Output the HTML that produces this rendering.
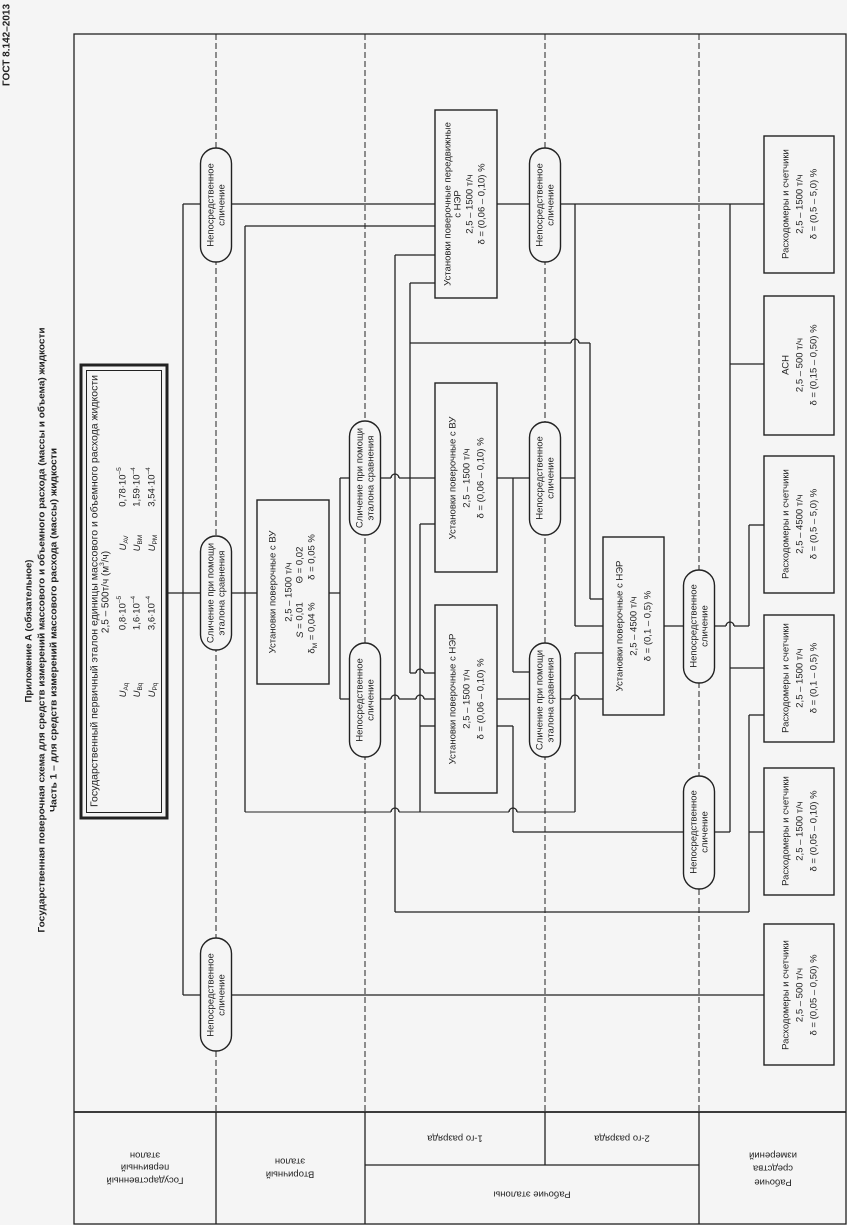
<!DOCTYPE html>
<html><head><meta charset="utf-8"><style>
html,body{margin:0;padding:0;background:#f5f5f5;}
svg{display:block;}
text{font-family:"Liberation Sans",Arial,sans-serif;fill:#222;}
.t{font-size:9.5px;text-anchor:middle;dominant-baseline:central;}
.b{font-weight:bold;font-size:9.5px;text-anchor:middle;dominant-baseline:central;}
.ln{stroke:#222;stroke-width:1.3;fill:none;}
.ds{stroke:#222;stroke-width:1;stroke-dasharray:6,3;fill:none;}
.bx{stroke:#222;stroke-width:1.4;fill:#f5f5f5;}
.ov{stroke:#222;stroke-width:1.4;fill:#f5f5f5;}
.mk{stroke:#f5f5f5;stroke-width:3;}
</style></head><body>
<svg width="847" height="1225" viewBox="0 0 847 1225" xmlns="http://www.w3.org/2000/svg">
<rect width="847" height="1225" fill="#f5f5f5"/>

<!-- titles -->
<text class="b" transform="translate(7,45) rotate(-90)" style="font-size:10px">ГОСТ 8.142–2013</text>
<text class="b" transform="translate(29,631) rotate(-90)">Приложение А (обязательное)</text>
<text class="b" transform="translate(42,630) rotate(-90)" textLength="605" lengthAdjust="spacingAndGlyphs">Государственная поверочная схема для средств измерений массового и объемного расхода (массы и объема) жидкости</text>
<text class="b" transform="translate(54,630) rotate(-90)" textLength="364" lengthAdjust="spacingAndGlyphs">Часть 1 – для средств измерений массового расхода (массы) жидкости</text>

<!-- frame -->
<rect x="74" y="34" width="772" height="1190" fill="none" stroke="#222" stroke-width="1.3"/>
<line class="ln" x1="74" y1="1112" x2="846" y2="1112" style="stroke-width:1.8"/>
<line class="ln" x1="365" y1="1165" x2="699" y2="1165"/>
<line class="ln" x1="216" y1="1112" x2="216" y2="1224"/>
<line class="ln" x1="365" y1="1112" x2="365" y2="1224"/>
<line class="ln" x1="545" y1="1112" x2="545" y2="1165"/>
<line class="ln" x1="699" y1="1112" x2="699" y2="1224"/>

<!-- dashed column lines -->
<line class="ds" x1="216" y1="34" x2="216" y2="1112"/>
<line class="ds" x1="365" y1="34" x2="365" y2="1112"/>
<line class="ds" x1="545" y1="34" x2="545" y2="1112"/>
<line class="ds" x1="699" y1="34" x2="699" y2="1112"/>

<!-- header labels (upside down) -->
<text class="t" transform="translate(145,1180) rotate(180)">Государственный</text>
<text class="t" transform="translate(145,1167) rotate(180)">первичный</text>
<text class="t" transform="translate(145,1155) rotate(180)">эталон</text>
<text class="t" transform="translate(290,1174) rotate(180)">Вторичный</text>
<text class="t" transform="translate(290,1161) rotate(180)">эталон</text>
<text class="t" transform="translate(455,1138) rotate(180)">1-го разряда</text>
<text class="t" transform="translate(622,1138) rotate(180)">2-го разряда</text>
<text class="t" transform="translate(532,1194) rotate(180)">Рабочие эталоны</text>
<text class="t" transform="translate(773,1182) rotate(180)">Рабочие</text>
<text class="t" transform="translate(773,1168) rotate(180)">средства</text>
<text class="t" transform="translate(773,1155) rotate(180)">измерений</text>

<!-- horizontal connectors -->
<g class="ln">
<line x1="183" y1="204" x2="764" y2="204"/>
<line x1="245" y1="226" x2="435" y2="226"/>
<line x1="395" y1="255" x2="435" y2="255"/>
<line x1="410" y1="283" x2="435" y2="283"/>
<line x1="410" y1="343" x2="590" y2="343"/>
<line x1="730" y1="364" x2="764" y2="364"/>
<line x1="340" y1="478" x2="575" y2="478"/>
<line x1="420" y1="524" x2="435" y2="524"/>
<line x1="749" y1="525" x2="764" y2="525"/>
<line x1="167" y1="593" x2="340" y2="593"/>
<line x1="590" y1="599" x2="603" y2="599"/>
<line x1="575" y1="626" x2="749" y2="626"/>
<line x1="575" y1="653" x2="603" y2="653"/>
<line x1="730" y1="668" x2="764" y2="668"/>
<line x1="513" y1="672" x2="530" y2="672"/>
<line x1="410" y1="673" x2="435" y2="673"/>
<line x1="340" y1="699" x2="603" y2="699"/>
<line x1="749" y1="715" x2="764" y2="715"/>
<line x1="420" y1="726" x2="435" y2="726"/>
<line x1="497" y1="726" x2="513" y2="726"/>
<line x1="245" y1="812" x2="575" y2="812" style="stroke-width:1"/>
<line x1="513" y1="832" x2="730" y2="832"/>
<line x1="749" y1="832" x2="764" y2="832"/>
<line x1="395" y1="912" x2="749" y2="912"/>
<line x1="183" y1="995" x2="764" y2="995"/>
</g>
<!-- hop masks -->
<g class="mk">
<line x1="571" y1="343" x2="579" y2="343"/>
<line x1="391" y1="478" x2="399" y2="478"/>
<line x1="726" y1="626" x2="734" y2="626"/>
<line x1="416" y1="673" x2="424" y2="673"/>
<line x1="391" y1="699" x2="399" y2="699"/>
<line x1="416" y1="699" x2="424" y2="699"/>
<line x1="571" y1="699" x2="579" y2="699"/>
<line x1="391" y1="812" x2="399" y2="812"/>
<line x1="509" y1="812" x2="517" y2="812"/>
</g>
<!-- vertical connectors -->
<g class="ln">
<line x1="183" y1="204" x2="183" y2="995"/>
<line x1="245" y1="226" x2="245" y2="812"/>
<line x1="340" y1="478" x2="340" y2="699"/>
<line x1="395" y1="255" x2="395" y2="912"/>
<line x1="410" y1="283" x2="410" y2="673"/>
<line x1="420" y1="524" x2="420" y2="812"/>
<line x1="513" y1="478" x2="513" y2="672"/>
<line x1="513" y1="726" x2="513" y2="832"/>
<line x1="575" y1="204" x2="575" y2="626"/>
<line x1="575" y1="653" x2="575" y2="812"/>
<line x1="590" y1="343" x2="590" y2="599"/>
<line x1="730" y1="204" x2="730" y2="832"/>
<line x1="749" y1="525" x2="749" y2="626"/>
<line x1="749" y1="715" x2="749" y2="912"/>
</g>
<!-- hop arcs -->
<g class="ln">
<path d="M571,343 A4,4 0 0 1 579,343"/>
<path d="M391,478 A4,4 0 0 1 399,478"/>
<path d="M726,626 A4,4 0 0 1 734,626"/>
<path d="M416,673 A4,4 0 0 1 424,673"/>
<path d="M391,699 A4,4 0 0 1 399,699"/>
<path d="M416,699 A4,4 0 0 1 424,699"/>
<path d="M571,699 A4,4 0 0 1 579,699"/>
<path d="M391,812 A4,4 0 0 1 399,812"/>
<path d="M509,812 A4,4 0 0 1 517,812"/>
</g>

<!-- primary standard box -->
<rect x="81" y="365" width="86" height="453" fill="#f5f5f5" stroke="#222" stroke-width="3"/>
<rect x="86.5" y="370.5" width="75" height="442" fill="none" stroke="#222" stroke-width="1"/>
<text class="t" transform="translate(95,591) rotate(-90)" style="font-size:10px" textLength="432" lengthAdjust="spacingAndGlyphs">Государственный первичный эталон единицы массового и объемного расхода жидкости</text>
<text class="t" transform="translate(106,592) rotate(-90)" style="font-size:10px">2,5 – 500т/ч (м<tspan baseline-shift="super" font-size="6.5">3</tspan>/ч)</text>
<g style="font-size:10px">
<text class="t" transform="translate(123,690) rotate(-90)"><tspan font-style="italic">U</tspan><tspan baseline-shift="sub" font-size="6.5">Aq</tspan></text>
<text class="t" transform="translate(123,613) rotate(-90)">0,8·10<tspan baseline-shift="super" font-size="6.5">–5</tspan></text>
<text class="t" transform="translate(123,543) rotate(-90)"><tspan font-style="italic">U</tspan><tspan baseline-shift="sub" font-size="6.5">AV</tspan></text>
<text class="t" transform="translate(123,487) rotate(-90)">0,78·10<tspan baseline-shift="super" font-size="6.5">–5</tspan></text>
<text class="t" transform="translate(137,690) rotate(-90)"><tspan font-style="italic">U</tspan><tspan baseline-shift="sub" font-size="6.5">Bq</tspan></text>
<text class="t" transform="translate(137,613) rotate(-90)">1,6·10<tspan baseline-shift="super" font-size="6.5">–4</tspan></text>
<text class="t" transform="translate(137,543) rotate(-90)"><tspan font-style="italic">U</tspan><tspan baseline-shift="sub" font-size="6.5">BM</tspan></text>
<text class="t" transform="translate(137,487) rotate(-90)">1,59·10<tspan baseline-shift="super" font-size="6.5">–4</tspan></text>
<text class="t" transform="translate(152,690) rotate(-90)"><tspan font-style="italic">U</tspan><tspan baseline-shift="sub" font-size="6.5">Pq</tspan></text>
<text class="t" transform="translate(152,613) rotate(-90)">3,6·10<tspan baseline-shift="super" font-size="6.5">–4</tspan></text>
<text class="t" transform="translate(152,543) rotate(-90)"><tspan font-style="italic">U</tspan><tspan baseline-shift="sub" font-size="6.5">PM</tspan></text>
<text class="t" transform="translate(152,487) rotate(-90)">3,54·10<tspan baseline-shift="super" font-size="6.5">–4</tspan></text>
</g>

<!-- boxes -->
<rect class="bx" x="257" y="500" width="72" height="184"/>
<text class="t" transform="translate(273,592) rotate(-90)">Установки поверочные с ВУ</text>
<text class="t" transform="translate(289,592) rotate(-90)">2,5 – 1500 т/ч</text>
<text class="t" transform="translate(300,620) rotate(-90)"><tspan font-style="italic">S</tspan> = 0,01</text>
<text class="t" transform="translate(300,565) rotate(-90)">Θ = 0,02</text>
<text class="t" transform="translate(312,628) rotate(-90)">δ<tspan baseline-shift="sub" font-size="6.5">M</tspan> = 0,04 %</text>
<text class="t" transform="translate(312,557) rotate(-90)">δ = 0,05 %</text>

<rect class="bx" x="435" y="110" width="62" height="188"/>
<text class="t" transform="translate(448,204) rotate(-90)">Установки поверочные передвижные</text>
<text class="t" transform="translate(458,204) rotate(-90)">с НЭР</text>
<text class="t" transform="translate(470,204) rotate(-90)">2,5 – 1500 т/ч</text>
<text class="t" transform="translate(482,204) rotate(-90)">δ = (0,06 – 0,10) %</text>

<rect class="bx" x="435" y="383" width="62" height="189"/>
<text class="t" transform="translate(453,478) rotate(-90)">Установки поверочные с ВУ</text>
<text class="t" transform="translate(467,478) rotate(-90)">2,5 – 1500 т/ч</text>
<text class="t" transform="translate(481,478) rotate(-90)">δ = (0,06 – 0,10) %</text>

<rect class="bx" x="435" y="605" width="62" height="188"/>
<text class="t" transform="translate(453,699) rotate(-90)">Установки поверочные с НЭР</text>
<text class="t" transform="translate(467,699) rotate(-90)">2,5 – 1500 т/ч</text>
<text class="t" transform="translate(481,699) rotate(-90)">δ = (0,06 – 0,10) %</text>

<rect class="bx" x="603" y="537" width="61" height="178"/>
<text class="t" transform="translate(620,626) rotate(-90)">Установки поверочные с НЭР</text>
<text class="t" transform="translate(634,626) rotate(-90)">2,5 – 4500 т/ч</text>
<text class="t" transform="translate(648,626) rotate(-90)">δ = (0,1 – 0,5) %</text>

<!-- right boxes -->
<rect class="bx" x="764" y="136" width="70" height="137"/>
<text class="t" transform="translate(786,204) rotate(-90)">Расходомеры и счетчики</text>
<text class="t" transform="translate(800,204) rotate(-90)">2,5 – 1500 т/ч</text>
<text class="t" transform="translate(814,204) rotate(-90)">δ = (0,5 – 5,0) %</text>

<rect class="bx" x="764" y="296" width="70" height="139"/>
<text class="t" transform="translate(786,365) rotate(-90)">АСН</text>
<text class="t" transform="translate(800,365) rotate(-90)">2,5 – 500 т/ч</text>
<text class="t" transform="translate(814,365) rotate(-90)">δ = (0,15 – 0,50) %</text>

<rect class="bx" x="764" y="456" width="70" height="137"/>
<text class="t" transform="translate(786,524) rotate(-90)">Расходомеры и счетчики</text>
<text class="t" transform="translate(800,524) rotate(-90)">2,5 – 4500 т/ч</text>
<text class="t" transform="translate(814,524) rotate(-90)">δ = (0,5 – 5,0) %</text>

<rect class="bx" x="764" y="615" width="70" height="127"/>
<text class="t" transform="translate(786,678) rotate(-90)">Расходомеры и счетчики</text>
<text class="t" transform="translate(800,678) rotate(-90)">2,5 – 1500 т/ч</text>
<text class="t" transform="translate(814,678) rotate(-90)">δ = (0,1 – 0,5) %</text>

<rect class="bx" x="764" y="768" width="70" height="127"/>
<text class="t" transform="translate(786,831) rotate(-90)">Расходомеры и счетчики</text>
<text class="t" transform="translate(800,831) rotate(-90)">2,5 – 1500 т/ч</text>
<text class="t" transform="translate(814,831) rotate(-90)">δ = (0,05 – 0,10) %</text>

<rect class="bx" x="764" y="924" width="70" height="141"/>
<text class="t" transform="translate(786,995) rotate(-90)">Расходомеры и счетчики</text>
<text class="t" transform="translate(800,995) rotate(-90)">2,5 – 500 т/ч</text>
<text class="t" transform="translate(814,995) rotate(-90)">δ = (0,05 – 0,50) %</text>

<!-- ovals -->
<rect class="ov" x="200.5" y="148" width="31" height="114" rx="15.5" ry="15.5"/>
<text class="t" transform="translate(211,205) rotate(-90)">Непосредственное</text>
<text class="t" transform="translate(222,205) rotate(-90)">сличение</text>

<rect class="ov" x="200.5" y="536" width="31" height="114" rx="15.5" ry="15.5"/>
<text class="t" transform="translate(211,593) rotate(-90)">Сличение при помощи</text>
<text class="t" transform="translate(222,593) rotate(-90)">эталона сравнения</text>

<rect class="ov" x="200.5" y="938" width="31" height="113" rx="15.5" ry="15.5"/>
<text class="t" transform="translate(211,995) rotate(-90)">Непосредственное</text>
<text class="t" transform="translate(222,995) rotate(-90)">сличение</text>

<rect class="ov" x="349.5" y="421" width="31" height="114" rx="15.5" ry="15.5"/>
<text class="t" transform="translate(360,478) rotate(-90)">Сличение при помощи</text>
<text class="t" transform="translate(371,478) rotate(-90)">эталона сравнения</text>

<rect class="ov" x="349.5" y="643" width="31" height="114" rx="15.5" ry="15.5"/>
<text class="t" transform="translate(360,700) rotate(-90)">Непосредственное</text>
<text class="t" transform="translate(371,700) rotate(-90)">сличение</text>

<rect class="ov" x="529.5" y="148" width="31" height="114" rx="15.5" ry="15.5"/>
<text class="t" transform="translate(540,205) rotate(-90)">Непосредственное</text>
<text class="t" transform="translate(551,205) rotate(-90)">сличение</text>

<rect class="ov" x="529.5" y="422" width="31" height="113" rx="15.5" ry="15.5"/>
<text class="t" transform="translate(540,478) rotate(-90)">Непосредственное</text>
<text class="t" transform="translate(551,478) rotate(-90)">сличение</text>

<rect class="ov" x="529.5" y="643" width="31" height="114" rx="15.5" ry="15.5"/>
<text class="t" transform="translate(540,700) rotate(-90)">Сличение при помощи</text>
<text class="t" transform="translate(551,700) rotate(-90)">эталона сравнения</text>

<rect class="ov" x="683.5" y="570" width="31" height="113" rx="15.5" ry="15.5"/>
<text class="t" transform="translate(694,626) rotate(-90)">Непосредственное</text>
<text class="t" transform="translate(705,626) rotate(-90)">сличение</text>

<rect class="ov" x="683.5" y="776" width="31" height="113" rx="15.5" ry="15.5"/>
<text class="t" transform="translate(694,832) rotate(-90)">Непосредственное</text>
<text class="t" transform="translate(705,832) rotate(-90)">сличение</text>
</svg>
</body></html>
